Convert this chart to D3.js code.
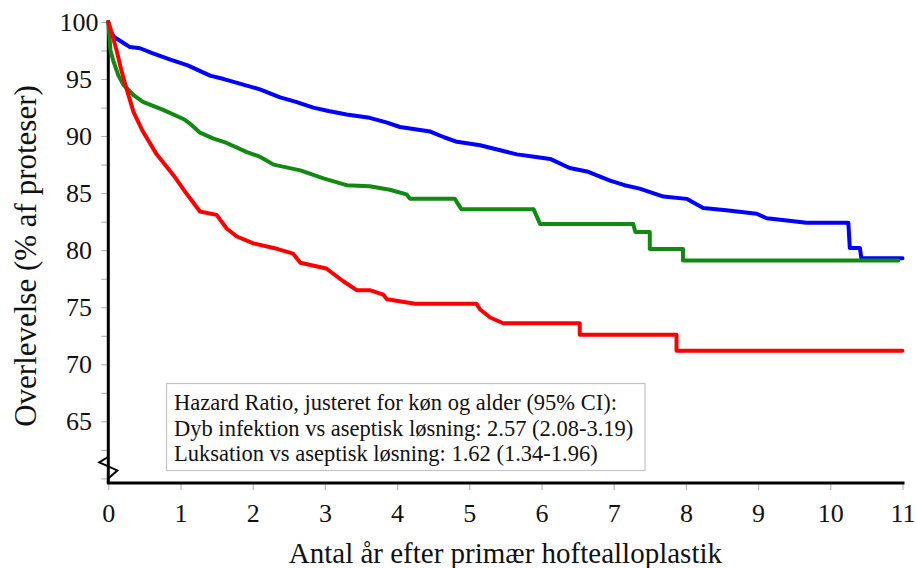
<!DOCTYPE html>
<html>
<head>
<meta charset="utf-8">
<script src="https://cdn.jsdelivr.net/npm/d3@7"></script>
<style>
  body { margin: 0; background: #fff; }
  text { font-family: "Liberation Serif", "Times New Roman", serif; fill: #111; }
</style>
</head>
<body>
<div id="chart"></div>
<script>
// Kaplan-Meier survival curves (years, % survival)
const asepticT = [0, 0.03, 0.08, 0.2, 0.3, 0.44, 0.6, 0.86, 1.1, 1.41, 1.6, 1.82, 2.1, 2.38, 2.6, 2.84, 3.05, 3.3, 3.62, 3.85, 4.04, 4.25, 4.46, 4.65, 4.83, 5.15, 5.4, 5.66, 5.9, 6.12, 6.39, 6.63, 6.95, 7.15, 7.36, 7.69, 8.01, 8.24, 8.56, 8.98, 9.12, 9.4, 9.67, 10.25, 10.27, 10.41, 10.43, 11.0];
const asepticV = [100, 99.2, 98.7, 98.2, 97.8, 97.7, 97.3, 96.7, 96.2, 95.3, 95.0, 94.6, 94.1, 93.4, 93.0, 92.5, 92.2, 91.9, 91.6, 91.2, 90.8, 90.6, 90.4, 89.9, 89.5, 89.2, 88.8, 88.4, 88.2, 88.0, 87.2, 86.9, 86.1, 85.7, 85.4, 84.7, 84.5, 83.7, 83.5, 83.2, 82.8, 82.6, 82.4, 82.4, 80.2, 80.2, 79.3, 79.3];

const luxT = [0, 0.03, 0.07, 0.14, 0.21, 0.35, 0.48, 0.76, 1.04, 1.15, 1.27, 1.45, 1.64, 1.92, 2.1, 2.29, 2.66, 2.98, 3.3, 3.62, 3.9, 4.13, 4.18, 4.8, 4.89, 5.89, 5.98, 7.27, 7.3, 7.5, 7.5, 7.96, 7.96, 10.94];
const luxV = [100, 97.5, 96.6, 95.3, 94.5, 93.6, 93.0, 92.3, 91.5, 91.0, 90.3, 89.8, 89.4, 88.6, 88.2, 87.5, 87.0, 86.3, 85.7, 85.6, 85.3, 84.9, 84.5, 84.5, 83.6, 83.6, 82.3, 82.3, 81.6, 81.6, 80.1, 80.1, 79.1, 79.1];

const infT = [0, 0.05, 0.12, 0.18, 0.25, 0.35, 0.48, 0.67, 0.9, 1.09, 1.27, 1.5, 1.64, 1.78, 2.01, 2.29, 2.56, 2.66, 3.02, 3.25, 3.44, 3.62, 3.81, 3.86, 4.25, 5.1, 5.15, 5.29, 5.47, 6.53, 6.53, 7.87, 7.87, 11.0];
const infV = [100, 99.0, 97.4, 95.8, 94.2, 92.1, 90.4, 88.4, 86.6, 84.9, 83.4, 83.1, 81.9, 81.2, 80.6, 80.2, 79.7, 78.9, 78.4, 77.3, 76.5, 76.5, 76.1, 75.7, 75.3, 75.3, 74.8, 74.1, 73.6, 73.6, 72.6, 72.6, 71.2, 71.2];

const xTicks = [0, 1, 2, 3, 4, 5, 6, 7, 8, 9, 10, 11];
const yTicks = [60, 62.5, 65, 67.5, 70, 72.5, 75, 77.5, 80, 82.5, 85, 87.5, 90, 92.5, 95, 97.5, 100];
const yLabels = [65, 70, 75, 80, 85, 90, 95, 100];

const legendLines = [
  'Hazard Ratio, justeret for køn og alder (95% CI):',
  'Dyb infektion vs aseptisk løsning: 2.57 (2.08-3.19)',
  'Luksation vs aseptisk løsning: 1.62 (1.34-1.96)'
];

const width = 917;
const height = 568;

const svg = d3.select('#chart')
  .append('svg')
  .attr('width', width)
  .attr('height', height);

// scales
const x = d3.scaleLinear().domain([0, 11]).range([108.3, 902.5]);
const y = d3.scaleLinear().domain([59.6, 100]).range([483, 22]);

// y ticks (minor every 2.5), labels on multiples of 5, centred
const axisY = d3.axisLeft(y)
  .tickValues(yTicks)
  .tickSize(7)
  .tickFormat(d => yLabels.includes(d) ? d : '');
const gy = svg.append('g')
  .attr('transform', `translate(${x(0)}, 0)`)
  .call(axisY);
gy.select('.domain').remove();
gy.selectAll('.tick line').attr('stroke', '#aaa').attr('stroke-width', 1);
gy.selectAll('.tick text')
  .attr('font-size', 26)
  .attr('x', 79 - x(0))
  .attr('text-anchor', 'middle')
  .attr('fill', '#111')
  .style('font-family', '"Liberation Serif", serif');

// x ticks
const axisX = d3.axisBottom(x)
  .tickValues(xTicks)
  .tickSize(7)
  .tickFormat(d3.format('d'));
const gx = svg.append('g')
  .attr('transform', `translate(0, ${y.range()[0]})`)
  .call(axisX);
gx.select('.domain').remove();
gx.selectAll('.tick line').attr('stroke', '#aaa').attr('stroke-width', 1);
gx.selectAll('.tick text')
  .attr('font-size', 26)
  .attr('y', 21)
  .attr('fill', '#111')
  .style('font-family', '"Liberation Serif", serif');

// axis lines
svg.append('line')
  .attr('x1', x(0)).attr('x2', x(0))
  .attr('y1', y(100) - 2).attr('y2', y.range()[0])
  .attr('stroke', '#000').attr('stroke-width', 3);
svg.append('line')
  .attr('x1', x(0) - 1.5).attr('x2', x(11) + 2)
  .attr('y1', y.range()[0]).attr('y2', y.range()[0])
  .attr('stroke', '#000').attr('stroke-width', 3);

// axis break mark
const breakPts = [[0, 61.9], [-9, 61.4], [9, 60.7], [0, 60.0]];
svg.append('path')
  .attr('d', d3.line()(breakPts.map(p => [x(0) + p[0], y(p[1])])))
  .attr('fill', 'none')
  .attr('stroke', '#000')
  .attr('stroke-width', 2);

// curves
const line = d3.line()
  .x(d => x(d[0]))
  .y(d => y(d[1]));

const series = [
  { t: asepticT, v: asepticV, color: '#0000ff' },
  { t: luxT, v: luxV, color: '#108a10' },
  { t: infT, v: infV, color: '#ff0000' }
];

series.forEach(s => {
  svg.append('path')
    .datum(s.t.map((t, i) => [t, s.v[i]]))
    .attr('d', line)
    .attr('fill', 'none')
    .attr('stroke', s.color)
    .attr('stroke-width', 4)
    .attr('stroke-linejoin', 'round')
    .attr('stroke-linecap', 'round');
});

// hazard ratio box
svg.append('rect')
  .attr('x', 166.5).attr('y', 383.5)
  .attr('width', 478.5).attr('height', 87)
  .attr('fill', '#fff')
  .attr('stroke', '#c4c4c4')
  .attr('stroke-width', 1.2);

svg.selectAll('.hr')
  .data(legendLines)
  .enter()
  .append('text')
  .attr('class', 'hr')
  .attr('x', 174)
  .attr('y', (d, i) => 410 + i * 25.5)
  .attr('font-size', 22.5)
  .text(d => d);

// axis titles
svg.append('text')
  .attr('x', (x(0) + x(11)) / 2)
  .attr('y', 563)
  .attr('text-anchor', 'middle')
  .attr('font-size', 29)
  .text('Antal år efter primær hoftealloplastik');

svg.append('text')
  .attr('transform', 'translate(36, 256) rotate(-90)')
  .attr('text-anchor', 'middle')
  .attr('font-size', 31)
  .text('Overlevelse (% af proteser)');
</script>
</body>
</html>
